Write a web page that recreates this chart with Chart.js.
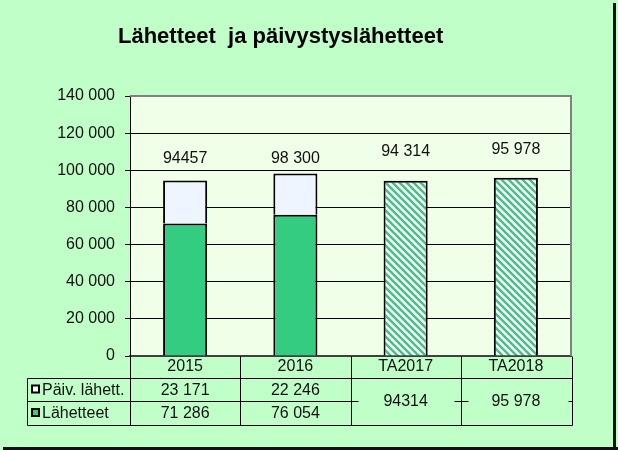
<!DOCTYPE html>
<html>
<head>
<meta charset="utf-8">
<script src="https://cdn.jsdelivr.net/npm/chart.js@4"></script>
<style>
  html, body { margin: 0; padding: 0; background: #c0ffc8; }
  #wrap { width: 618px; height: 450px; }
</style>
</head>
<body>
<div id="wrap"><canvas id="chart" width="618" height="450"></canvas></div>
<script>
// Chart data
const categories = ['2015', '2016', 'TA2017', 'TA2018'];
const lahetteet = [71286, 76054, null, null];
const paivLahett = [23171, 22246, null, null];
const budget = [null, null, 94314, 95978];

// Texts as printed in the original
const totalLabels = ['94457', '98 300', '94 314', '95 978'];
const paivLabels = ['23 171', '22 246'];
const lahetteetLabels = ['71 286', '76 054'];
const budgetLabels = ['94314', '95 978'];
const seriesNames = ['Päiv. lähett.', 'Lähetteet'];

// How far each total label sits above its bar (px)
const labelLift = [22, 15, 29, 28];

const FONT = '"Liberation Sans", Arial, sans-serif';
const TEXT = '#111';
const GREEN = '#33cc80';
const PALE = '#eef5ff';

// Diagonal hatch for the budget bars
function makeHatch() {
    const s = 7;
    const c = document.createElement('canvas');
    c.width = s; c.height = s;
    const g = c.getContext('2d');
    g.fillStyle = '#effff4';
    g.fillRect(0, 0, s, s);
    g.strokeStyle = '#4cbb8c';
    g.lineWidth = 2.4;
    g.beginPath();
    g.moveTo(-1, -1); g.lineTo(s + 1, s + 1);
    g.moveTo(-2, s - 2); g.lineTo(2, s + 2);
    g.moveTo(s - 2, -2); g.lineTo(s + 2, 2);
    g.stroke();
    return g.createPattern(c, 'repeat');
}

function spaced(v) {
    return String(v).replace(/\B(?=(\d{3})+(?!\d))/g, ' ');
}

// Backgrounds, title and frame
const backgroundPlugin = {
    id: 'backgrounds',
    beforeDraw(chart) {
        const ctx = chart.ctx, a = chart.chartArea;
        ctx.save();
        ctx.fillStyle = '#c0ffc8';
        ctx.fillRect(0, 0, chart.width, chart.height);
        ctx.fillStyle = '#f0ffe8';
        ctx.fillRect(a.left, a.top, a.right - a.left, a.bottom - a.top);

        ctx.fillStyle = '#000';
        ctx.font = 'bold 22px ' + FONT;
        ctx.textAlign = 'left';
        ctx.textBaseline = 'middle';
        ctx.fillText('Lähetteet  ja päivystyslähetteet', 118, 37);

        // shadow frame on right and bottom
        ctx.fillStyle = '#111';
        ctx.fillRect(613, 3, 3, chart.height - 3);
        ctx.fillRect(3, chart.height - 3, chart.width - 3, 3);
        ctx.restore();
    },
    afterDatasetsDraw(chart) {
        const ctx = chart.ctx, a = chart.chartArea;
        const x = chart.scales.x, y = chart.scales.y;
        ctx.save();
        // gray plot border on top and right
        ctx.strokeStyle = '#808080';
        ctx.lineWidth = 2;
        ctx.beginPath();
        ctx.moveTo(a.left, a.top);
        ctx.lineTo(a.right, a.top);
        ctx.lineTo(a.right, a.bottom);
        ctx.stroke();

        // totals above bars
        ctx.fillStyle = TEXT;
        ctx.font = '16px ' + FONT;
        ctx.textAlign = 'center';
        ctx.textBaseline = 'middle';
        categories.forEach((c, i) => {
            const total = (lahetteet[i] || 0) + (paivLahett[i] || 0) + (budget[i] || 0);
            ctx.fillText(totalLabels[i], x.getPixelForValue(i), y.getPixelForValue(total) - labelLift[i]);
        });
        ctx.restore();
    }
};

// Data table under the x axis
const tablePlugin = {
    id: 'dataTable',
    afterDraw(chart) {
        const ctx = chart.ctx, a = chart.chartArea, x = chart.scales.x;
        const half = (x.getPixelForValue(1) - x.getPixelForValue(0)) / 2;
        const edges = categories.map((c, i) => x.getPixelForValue(i) - half);
        edges.push(x.getPixelForValue(categories.length - 1) + half);
        const right = edges[edges.length - 1] + 1;
        const left = 27;
        const rowTop = a.bottom + 22, rowMid = a.bottom + 45, rowBot = a.bottom + 69;

        ctx.save();
        ctx.strokeStyle = '#000';
        ctx.lineWidth = 1;
        const line = (x1, y1, x2, y2) => {
            ctx.beginPath();
            ctx.moveTo(Math.round(x1) + 0.5, Math.round(y1) + 0.5);
            ctx.lineTo(Math.round(x2) + 0.5, Math.round(y2) + 0.5);
            ctx.stroke();
        };
        // vertical dividers
        edges.forEach((e, i) => {
            const ex = i === edges.length - 1 ? right : e;
            line(ex, a.bottom, ex, rowBot);
        });
        line(left, rowTop, left, rowBot);
        // horizontal lines
        line(left, rowTop, right, rowTop);
        line(left, rowBot, right, rowBot);
        line(left, rowMid, edges[2] + 7, rowMid);
        line(edges[3] - 7, rowMid, edges[3] + 7, rowMid);
        line(right - 4, rowMid, right, rowMid);

        // values
        ctx.fillStyle = TEXT;
        ctx.font = '16px ' + FONT;
        ctx.textAlign = 'center';
        ctx.textBaseline = 'middle';
        paivLabels.forEach((t, i) => ctx.fillText(t, x.getPixelForValue(i), (rowTop + rowMid) / 2 + 1));
        lahetteetLabels.forEach((t, i) => ctx.fillText(t, x.getPixelForValue(i), (rowMid + rowBot) / 2 + 1));
        budgetLabels.forEach((t, i) => ctx.fillText(t, x.getPixelForValue(i + 2), rowMid + 1));

        // legend keys
        ctx.textAlign = 'left';
        ['#ffffff', GREEN].forEach((col, i) => {
            const cy = i === 0 ? (rowTop + rowMid) / 2 : (rowMid + rowBot) / 2;
            ctx.fillStyle = col;
            ctx.fillRect(32, cy - 4, 7, 7);
            ctx.lineWidth = 2;
            ctx.strokeRect(32, cy - 4, 7, 7);
            ctx.fillStyle = TEXT;
            ctx.fillText(seriesNames[i], 42, cy + 1);
        });
        ctx.restore();
    }
};

const hatch = makeHatch();

new Chart(document.getElementById('chart'), {
    type: 'bar',
    data: {
        labels: categories,
        datasets: [
            { label: 'Lähetteet', data: lahetteet, backgroundColor: GREEN, borderColor: '#000', borderWidth: 2 },
            { label: 'Päiv. lähett.', data: paivLahett, backgroundColor: PALE, borderColor: '#000', borderWidth: 2 },
            { label: 'TA', data: budget, backgroundColor: hatch, borderColor: '#000', borderWidth: 2 }
        ]
    },
    options: {
        responsive: false,
        animation: false,
        events: [],
        layout: { padding: { top: 96, right: 47, left: 0, bottom: 0 } },
        datasets: { bar: { barPercentage: 0.4, categoryPercentage: 1 } },
        scales: {
            x: {
                stacked: true,
                afterFit(scale) { scale.height = 94; },
                grid: { display: false, drawTicks: false },
                border: { display: true, color: '#404040', width: 2 },
                ticks: { color: TEXT, font: { family: FONT, size: 16 }, padding: 1, maxRotation: 0 }
            },
            y: {
                stacked: true,
                min: 0,
                max: 140000,
                afterFit(scale) { scale.width = 130; },
                grid: { color: '#000', lineWidth: 1, tickLength: 5 },
                border: { display: true, color: '#000', width: 1 },
                ticks: {
                    stepSize: 20000,
                    padding: 10,
                    color: TEXT,
                    font: { family: FONT, size: 16 },
                    callback: v => spaced(v)
                }
            }
        },
        plugins: {
            legend: { display: false },
            tooltip: { enabled: false },
            title: { display: false }
        }
    },
    plugins: [backgroundPlugin, tablePlugin]
});
</script>
</body>
</html>
